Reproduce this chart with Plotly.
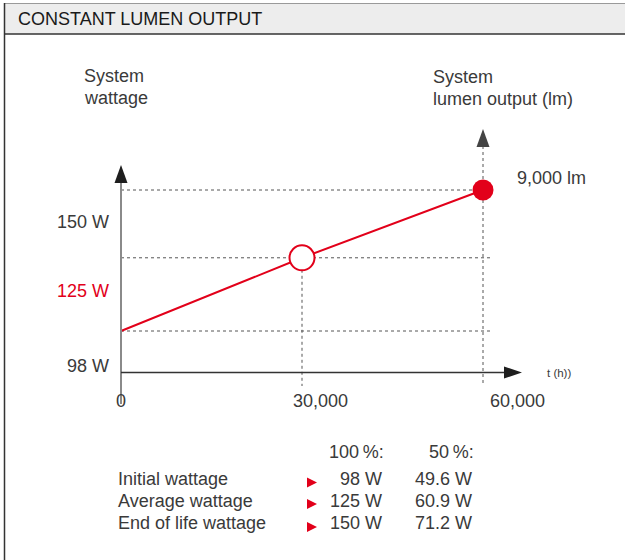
import plotly.graph_objects as go

# ---- data ----
hours = [0, 30000, 60000]
wattage = [98, 125, 150]            # system wattage at 0 h, 30,000 h, 60,000 h
wattage_ticks = ["150 W", "125 W", "98 W"]
time_ticks = ["0", "30,000", "60,000"]
lumen_label = "9,000 lm"
row_labels = ["Initial wattage", "Average wattage", "End of life wattage"]
col_headers = ["100\u2009%:", "50\u2009%:"]
vals_100 = ["98 W", "125 W", "150 W"]
vals_50 = ["49.6 W", "60.9 W", "71.2 W"]

W, H = 625, 560
RED = "#e2001a"
TXT = "#3a3a3a"
FONT = "Liberation Sans, Arial, sans-serif"
FS = 18

# pixel geometry of the scales
X0PX, X1PX = 121, 483          # 0 h and 60,000 h
hpp = (hours[-1] - hours[0]) / (X1PX - X0PX)
Y98, Y150 = 331, 190           # pixel rows of 98 W and 150 W
wpp = (wattage[-1] - wattage[0]) / (Y98 - Y150)
xr = [hours[0] - X0PX * hpp, hours[0] + (W - X0PX) * hpp]
yr = [wattage[0] - (H - Y98) * wpp, wattage[0] + Y98 * wpp]

def px(x):
    return x / W

def py(y):
    return 1 - y / H

def hx(xpix):   # pixel -> hours
    return hours[0] + (xpix - X0PX) * hpp

def wy(ypix):   # pixel -> watts
    return wattage[0] + (Y98 - ypix) * wpp

def tri(points, color):
    d = "M " + " L ".join(f"{px(a):.5f},{py(b):.5f}" for a, b in points) + " Z"
    return dict(type="path", xref="paper", yref="paper", path=d,
                fillcolor=color, line=dict(width=0), layer="above")

fig = go.Figure()

# red wattage line
fig.add_trace(go.Scatter(x=hours, y=wattage, mode="lines",
                         line=dict(color=RED, width=2), hoverinfo="skip"))
# open circle at the midpoint
fig.add_trace(go.Scatter(x=[hours[1]], y=[wattage[1]], mode="markers",
                         marker=dict(size=25, color="white",
                                     line=dict(color=RED, width=2)),
                         hoverinfo="skip"))
# filled circle at the end
fig.add_trace(go.Scatter(x=[hours[2]], y=[wattage[2]], mode="markers",
                         marker=dict(size=21, color=RED, line=dict(width=0)),
                         hoverinfo="skip"))

shapes = []
# header band
shapes.append(dict(type="rect", xref="paper", yref="paper",
                   x0=px(4), x1=px(W + 5), y0=py(3.5), y1=py(34),
                   fillcolor="#ededed", line=dict(width=0), layer="below"))
shapes.append(dict(type="line", xref="paper", yref="paper",
                   x0=px(4), x1=px(W + 5), y0=py(3.5), y1=py(3.5),
                   line=dict(color="#9a9a9a", width=1)))
shapes.append(dict(type="line", xref="paper", yref="paper",
                   x0=px(4), x1=px(W + 5), y0=py(34), y1=py(34),
                   line=dict(color="#333333", width=1.5)))
shapes.append(dict(type="line", xref="paper", yref="paper",
                   x0=px(4.5), x1=px(4.5), y0=py(3), y1=py(H + 5),
                   line=dict(color="#333333", width=1.5)))

# dotted guides
dot = dict(color="#555555", width=1, dash="dot")
for wv in wattage:
    shapes.append(dict(type="line", xref="x", yref="y",
                       x0=hours[0], x1=hx(493), y0=wv, y1=wv, line=dot, layer="below"))
shapes.append(dict(type="line", xref="x", yref="y",
                   x0=hours[1], x1=hours[1], y0=wattage[1], y1=wy(386),
                   line=dot, layer="below"))
shapes.append(dict(type="line", xref="x", yref="y",
                   x0=hours[2], x1=hours[2], y0=wy(140), y1=wy(384),
                   line=dot, layer="below"))

# axes
shapes.append(dict(type="line", xref="x", yref="paper",
                   x0=hours[0], x1=hours[0], y0=py(178), y1=py(404),
                   line=dict(color="#8a8a8a", width=2)))
shapes.append(dict(type="line", xref="x", yref="paper",
                   x0=hours[0], x1=hx(508), y0=py(372.5), y1=py(372.5),
                   line=dict(color="#333333", width=1.5)))
# arrow heads
shapes.append(tri([(121, 165), (127.5, 183), (114.5, 183)], "#1e1e1e"))
shapes.append(tri([(483, 129), (489.5, 147), (476.5, 147)], "#444444"))
shapes.append(tri([(522, 372.5), (504, 366.5), (504, 378.5)], "#1e1e1e"))
# red table arrows
for cy in [482.5, 504, 527]:
    shapes.append(tri([(317, cy), (307, cy - 5), (307, cy + 5)], RED))

ann = []

def text(x, y, s, size=FS, color=TXT, xanchor="left"):
    ann.append(dict(x=px(x), y=py(y), xref="paper", yref="paper", text=s,
                    showarrow=False, xanchor=xanchor, yanchor="middle",
                    font=dict(family=FONT, size=size, color=color)))

text(16, 19.5, "CONSTANT LUMEN OUTPUT", size=18, color="#1a1a1a")
text(82, 76, "System")
text(82, 98, "wattage")
text(431, 77, "System")
text(431, 99, "lumen output (lm)")
text(515, 178, lumen_label)
tick_y = [222, 291, 366]
tick_col = [TXT, RED, TXT]
for s, yv, c in zip(wattage_ticks, tick_y, tick_col):
    text(111, yv, s, color=c, xanchor="right")
for s, xv in zip(time_ticks, [121, 320, 517]):
    text(xv, 401, s, xanchor="center")
text(545, 372.5, "t (h))", size=11.5)

# table
text(386, 452, col_headers[0], xanchor="right")
text(476, 452, col_headers[1], xanchor="right")
for lab, v1, v2, yv in zip(row_labels, vals_100, vals_50, [479, 501, 523]):
    text(116, yv, lab)
    text(384, yv, v1, xanchor="right")
    text(474, yv, v2, xanchor="right")

fig.update_layout(
    width=W, height=H,
    margin=dict(l=0, r=0, t=0, b=0),
    paper_bgcolor="white", plot_bgcolor="white",
    showlegend=False,
    xaxis=dict(range=xr, visible=False, fixedrange=True),
    yaxis=dict(range=yr, visible=False, fixedrange=True),
    shapes=shapes, annotations=ann,
)

fig.write_html("out.html", config={"displayModeBar": False},
               post_script="document.body.style.margin='0px';")
